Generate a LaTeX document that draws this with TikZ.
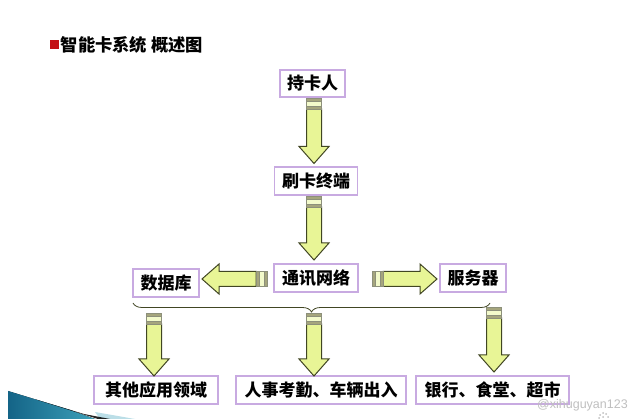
\documentclass[tikz,border=0pt]{standalone}
\usepackage{fontspec}
\setmainfont{Noto Sans CJK SC}
\setsansfont{Liberation Sans}
\usetikzlibrary{calc,decorations.pathreplacing}
\definecolor{boxline}{RGB}{200,170,225}
\definecolor{arrowfill}{RGB}{232,245,150}
\definecolor{arrowline}{RGB}{65,70,35}
\definecolor{stripefill}{RGB}{165,165,125}
\definecolor{wedgedark}{RGB}{20,100,135}
\definecolor{wedgelight}{RGB}{60,160,185}
\tikzset{
  cardbox/.style={draw=boxline,line width=1.2pt,fill=white,inner sep=0pt,font=\bfseries\fontsize{17}{17}\selectfont,anchor=center},
  arrowbody/.style={draw=arrowline,line width=1pt,fill=arrowfill,line join=miter},
  arrowstripe/.style={draw=arrowline!60,line width=0.3pt,fill=stripefill},
}
% #1 and #2 are the named ends of the arrow
\newcommand{\blockarrow}[2]{
  \coordinate (s1) at ($(#1)!2.7pt!(#2)$);
  \coordinate (s2) at ($(#1)!8pt!(#2)$);
  \coordinate (s3) at ($(#1)!11pt!(#2)$);
  \coordinate (neck) at ($(#2)!17pt!(#1)$);
  \draw[arrowbody] ($(s3)!7.5pt!90:(#2)$) -- ($(neck)!7.5pt!90:(#2)$) -- ($(neck)!15pt!90:(#2)$) -- (#2)
    -- ($(neck)!15pt!-90:(#2)$) -- ($(neck)!7.5pt!-90:(#2)$) -- ($(s3)!7.5pt!-90:(#2)$) -- cycle;
  \draw[arrowstripe] ($(#1)!7.5pt!90:(#2)$) -- ($(s1)!7.5pt!90:(#2)$) -- ($(s1)!7.5pt!-90:(#2)$) -- ($(#1)!7.5pt!-90:(#2)$) -- cycle;
  \draw[arrowstripe,fill=arrowfill!50] ($(s1)!7.5pt!90:(#2)$) -- ($(s2)!7.5pt!90:(#2)$) -- ($(s2)!7.5pt!-90:(#2)$) -- ($(s1)!7.5pt!-90:(#2)$) -- cycle;
  \draw[arrowstripe] ($(s2)!7.5pt!90:(#2)$) -- ($(s3)!7.5pt!90:(#2)$) -- ($(s3)!7.5pt!-90:(#2)$) -- ($(s2)!7.5pt!-90:(#2)$) -- cycle;
}
\begin{document}
\begin{tikzpicture}[x=1pt,y=-1pt]
  \useasboundingbox (0,0) rectangle (640,419);

  % corner wedge
  \fill[wedgelight!35] (95,412) -- (135,419) -- (100,419) -- cycle;
  \fill[left color=wedgedark,right color=wedgelight] (8,391) -- (70,410) -- (95,419) -- (8,419) -- cycle;
  \fill[black,opacity=0.85] (36,399.5) -- (84,414) -- (110,419) -- (98,419) -- cycle;

  % title
  \node[fill={rgb,255:red,195;green,15;blue,20},minimum size=9pt,inner sep=0pt] (bullet) at (54.5,44.5) {};
  \node[anchor=west,inner sep=0pt,font=\bfseries\fontsize{17.3}{17.3}\selectfont] (title) at (60.5,45) {智能卡系统 概述图};

  % boxes
  \node[cardbox,minimum width=65pt,minimum height=27pt] (holder) at (312.5,83.5) {持卡人};
  \node[cardbox,minimum width=83pt,minimum height=28pt] (terminal) at (316,181) {刷卡终端};
  \node[cardbox,minimum width=84pt,minimum height=28pt] (network) at (316,278) {通讯网络};
  \node[cardbox,minimum width=66pt,minimum height=28pt] (database) at (166,283) {数据库};
  \node[cardbox,minimum width=66pt,minimum height=28pt] (server) at (473,278) {服务器};
  \node[cardbox,minimum width=124pt,minimum height=28pt] (other) at (156,390) {其他应用领域\hspace{6pt}};
  \node[cardbox,minimum width=170pt,minimum height=28pt] (staff) at (321,390) {人事考勤、车辆出入};
  \node[cardbox,minimum width=153pt,minimum height=28pt] (bank) at (492.5,390) {银行、食堂、超市};

  % arrow ends
  \coordinate (holderout) at (314,98);
  \coordinate (terminalin) at (314,163.5);
  \coordinate (terminalout) at (314,196);
  \coordinate (networkin) at (314,260);
  \coordinate (networkleft) at (267,279);
  \coordinate (databasein) at (202,279);
  \coordinate (networkright) at (372,279);
  \coordinate (serverin) at (437,279);
  \coordinate (braceleft) at (133,303);
  \coordinate (braceright) at (490,303);
  \coordinate (otherout) at (154,313);
  \coordinate (otherin) at (154,376);
  \coordinate (staffout) at (314,313);
  \coordinate (staffin) at (314,376);
  \coordinate (bankout) at (494,307);
  \coordinate (bankin) at (494,372);

  \blockarrow{holderout}{terminalin}
  \blockarrow{terminalout}{networkin}
  \blockarrow{networkleft}{databasein}
  \blockarrow{networkright}{serverin}
  \blockarrow{otherout}{otherin}
  \blockarrow{staffout}{staffin}
  \blockarrow{bankout}{bankin}

  \draw[arrowline,line width=0.8pt,decorate,decoration={brace,mirror,amplitude=9pt,aspect=0.5}] (braceleft) -- (braceright);

  % watermark
  \node[anchor=west,inner sep=0pt,text=black!25,font=\sffamily\fontsize{12.5}{12.5}\selectfont] (mark) at (537,405) {@xihuguyan123};
  \foreach \px/\py in {600/415,603/413,606/414,599/418,608/417,603/417}
    \fill[black!25] (\px,\py) circle (1pt);
\end{tikzpicture}
\end{document}
